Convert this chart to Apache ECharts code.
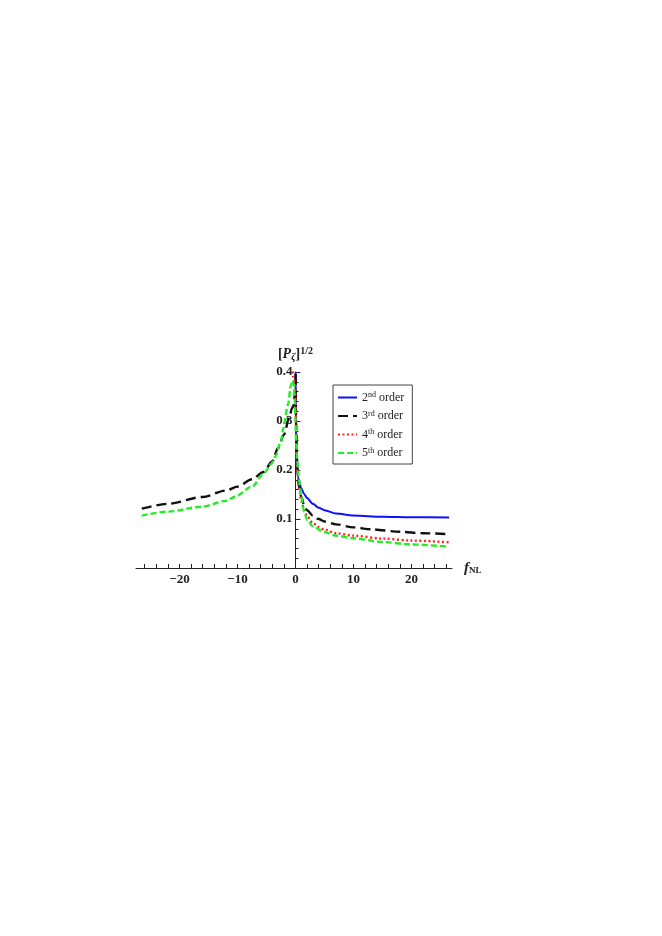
<!DOCTYPE html>
<html>
<head>
<meta charset="utf-8">
<script src="https://cdn.jsdelivr.net/npm/echarts@6/dist/echarts.min.js"></script>
<style>
html,body{margin:0;padding:0;background:#fff;}
#chart{width:662px;height:936px;}
</style>
</head>
<body>
<div id="chart"></div>
<script>
var seriesNames = ['2nd order', '3rd order', '4th order', '5th order'];
var xTickValues = [-26,-24,-22,-20,-18,-16,-14,-12,-10,-8,-6,-4,-2,0,2,4,6,8,10,12,14,16,18,20,22,24,26];
var xLabelValues = [-20,-10,0,10,20];
var yLabelValues = [0.1,0.2,0.3,0.4];

var order2 = [[0.03,0.40],[0.08,0.30],[0.2,0.21],[0.5,0.183],[1,0.163],[1.5,0.151],[2,0.143],[3,0.131],[4,0.123],[5,0.118],[7,0.111],[10,0.107],[15,0.1045],[20,0.1035],[26.5,0.103]];
var order3 = [[-26.5,0.121],[-22,0.131],[-16,0.145],[-12,0.158],[-10,0.166],[-7.5,0.181],[-5.5,0.196],[-4,0.218],[-3,0.245],[-2,0.272],[-1,0.31],[-0.6,0.326],[-0.3,0.332],[0,0.37],[0.03,0.40],[0.1,0.30],[0.3,0.21],[0.6,0.165],[1,0.145],[1.5,0.128],[2,0.118],[3,0.107],[4,0.1],[5,0.095],[7,0.089],[10,0.083],[13,0.079],[18,0.074],[22,0.071],[26.5,0.069]];
var order4 = [[-0.6,0.42],[-0.4,0.39],[-0.1,0.38],[0.02,0.35],[0.05,0.32],[0.15,0.25],[0.35,0.19],[0.7,0.155],[1,0.138],[1.5,0.118],[2,0.106],[3,0.092],[4,0.084],[5,0.078],[7,0.071],[10,0.066],[15,0.06],[20,0.056],[26.5,0.0525]];
var order5 = [[-26.5,0.107],[-22,0.115],[-16.2,0.125],[-12,0.137],[-10.4,0.1455],[-7.5,0.166],[-5.3,0.195],[-4.2,0.212],[-3.5,0.227],[-2.5,0.258],[-2.1,0.285],[-1.25,0.335],[-0.8,0.372],[-0.5,0.383],[-0.3,0.375],[-0.1,0.34],[0,0.3],[0.15,0.25],[0.3,0.22],[0.6,0.18],[1,0.145],[1.5,0.115],[2,0.098],[3,0.085],[5,0.073],[7,0.066],[10,0.0606],[15,0.053],[20,0.048],[26.5,0.0435]];

var serif = '"Liberation Serif", "DejaVu Serif", serif';
var gridLeft = 136;
var chart = echarts.init(document.getElementById('chart'), null, {renderer: 'canvas'});

function mkSeries(name, data, color, type, width) {
  return {
    name: name, type: 'line', data: data, showSymbol: false, symbol: 'none',
    smooth: 0.3, smoothMonotone: 'x', clip: true,
    lineStyle: {color: color, type: type, width: width},
    itemStyle: {color: color}
  };
}

var option = {
  animation: false,
  backgroundColor: '#fff',
  grid: {left: gridLeft, right: 210, top: 372, bottom: 368},
  legend: {
    orient: 'vertical', left: 333, top: 385,
    borderColor: '#444', borderWidth: 1,
    padding: [6, 8, 5, 4],
    itemWidth: 19, itemHeight: 8, itemGap: 6,
    itemStyle: {opacity: 0},
    data: seriesNames,
    formatter: function (n) { return n.replace(/^(\d)(\w+) /, '$1{sup|$2} '); },
    textStyle: {
      fontFamily: serif, fontSize: 12, color: '#222',
      rich: {sup: {fontFamily: serif, fontSize: 8, verticalAlign: 'top', padding: [0, 0, 5, 0], color: '#222'}}
    }
  },
  xAxis: {
    type: 'value', min: -27.5, max: 27,
    axisLine: {onZero: true, lineStyle: {color: '#222', width: 1}},
    axisTick: {inside: true, length: 4, customValues: xTickValues, lineStyle: {color: '#222'}},
    axisLabel: {customValues: xLabelValues, margin: 5, fontFamily: serif, fontWeight: 'bold', fontSize: 13, color: '#222',
      formatter: function (v) { return v < 0 ? '\u2212' + Math.abs(v) : String(v); }},
    splitLine: {show: false},
    name: '{f|f}{sub|NL}', nameLocation: 'end', nameGap: 12,
    nameTextStyle: {
      rich: {
        f: {fontFamily: serif, fontStyle: 'italic', fontWeight: 'bold', fontSize: 15, color: '#222'},
        sub: {fontFamily: serif, fontWeight: 'bold', fontSize: 9, color: '#222', verticalAlign: 'bottom', padding: [5, 0, 0, 0]}
      }
    }
  },
  yAxis: {
    type: 'value', min: 0, max: 0.4, interval: 0.1, offset: 0,
    axisLine: {onZero: false, lineStyle: {color: '#222', width: 1}},
    axisTick: {inside: true, length: 5, lineStyle: {color: '#222'}},
    minorTick: {show: true, splitNumber: 5, length: 3, lineStyle: {color: '#222'}},
    axisLabel: {customValues: yLabelValues, margin: 3, fontFamily: serif, fontWeight: 'bold', fontSize: 13, color: '#222',
      formatter: function (v) { return v.toFixed(1); }},
    splitLine: {show: false},
    name: '[{p|P}{sub|\u03B6}]{sup|1/2}', nameLocation: 'end', nameGap: 10,
    nameTextStyle: {
      fontFamily: serif, fontWeight: 'bold', fontSize: 14, color: '#222', align: 'center',
      rich: {
        p: {fontFamily: serif, fontStyle: 'italic', fontWeight: 'bold', fontSize: 14, color: '#222'},
        sub: {fontFamily: serif, fontStyle: 'italic', fontWeight: 'bold', fontSize: 10, color: '#222', verticalAlign: 'bottom', padding: [6, 0, 0, 0]},
        sup: {fontFamily: serif, fontSize: 10, color: '#222', verticalAlign: 'top', padding: [0, 0, 6, 0]}
      }
    }
  },
  series: [
    mkSeries(seriesNames[0], order2, '#1010ff', 'solid', 2),
    mkSeries(seriesNames[1], order3, '#111111', [10, 5], 2.4),
    mkSeries(seriesNames[2], order4, '#ff2020', [2, 2.5], 2.4),
    mkSeries(seriesNames[3], order5, '#22ee22', [6, 3], 2.4)
  ]
};
chart.setOption(option);
// move the y axis to x = 0 (through the library's own scale)
var zeroPx = chart.convertToPixel({xAxisIndex: 0}, 0);
chart.setOption({yAxis: {offset: -(zeroPx - gridLeft)}});
</script>
</body>
</html>
